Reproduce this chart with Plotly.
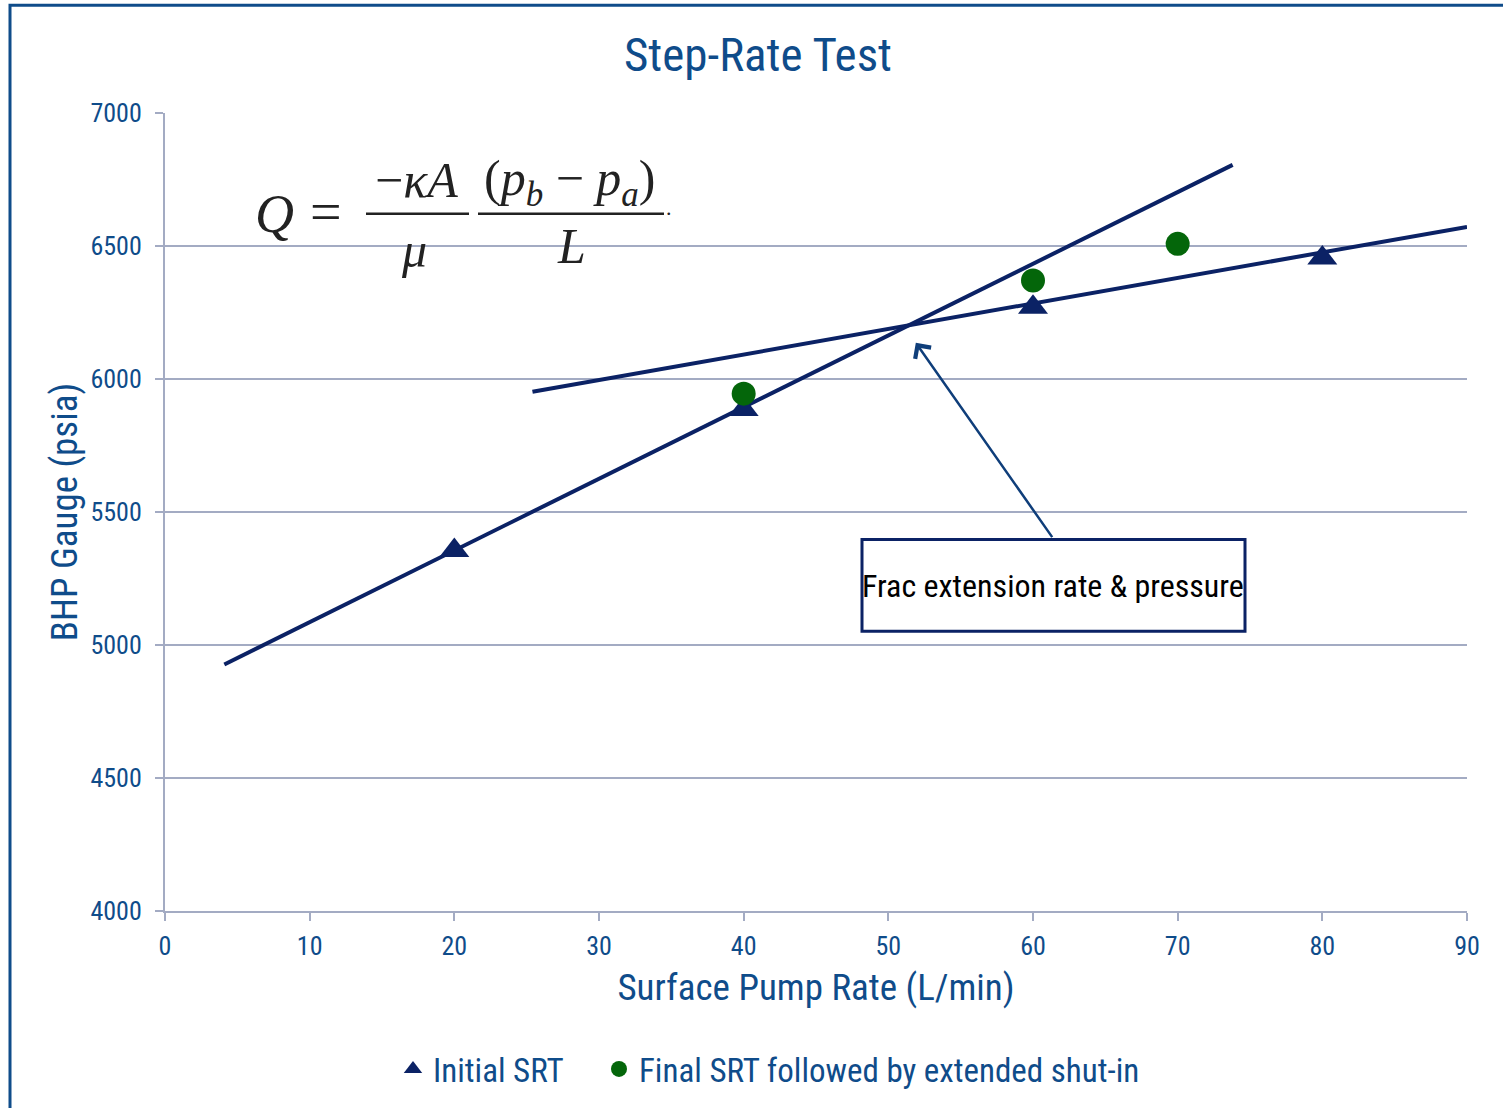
import plotly.graph_objects as go

# ---------------- data ----------------
initial_rate = [20, 40, 60, 80]
initial_bhp = [5355, 5885, 6270, 6455]

final_rate = [40, 60, 70]
final_bhp = [5945, 6370, 6508]

trend1_rate = [4.1, 73.8]
trend1_bhp = [4927, 6805]

trend2_rate = [25.4, 90]
trend2_bhp = [5952, 6572]

arrow_head = (51.9, 6136)
arrow_tail = (61.4, 5400)

x_ticks = [0, 10, 20, 30, 40, 50, 60, 70, 80, 90]
y_ticks = [4000, 4500, 5000, 5500, 6000, 6500, 7000]

# ---------------- styling ----------------
W, H = 1503, 1108
L, R, T, B = 165, 36, 113, 196
PW, PH = W - L - R, H - T - B

NAVY = "#0B2265"
GREEN = "#04660A"
BLUE = "#0F4C8A"
GRID = "#A3ABC3"
FONT = "Liberation Sans Narrow, Arial Narrow, Roboto Condensed, Liberation Sans, Arial"
SERIF = "Liberation Serif, Times New Roman, DejaVu Serif"


def px(x):
    return (x - L) / PW


def py(y):
    return (H - B - y) / PH


fig = go.Figure()

fig.add_trace(go.Scatter(x=trend1_rate, y=trend1_bhp, mode="lines",
                         line=dict(color=NAVY, width=4), showlegend=False,
                         cliponaxis=False, hoverinfo="skip"))
fig.add_trace(go.Scatter(x=trend2_rate, y=trend2_bhp, mode="lines",
                         line=dict(color=NAVY, width=4), showlegend=False,
                         cliponaxis=False, hoverinfo="skip"))
fig.add_trace(go.Scatter(x=initial_rate, y=initial_bhp, mode="markers",
                         name="Initial SRT", legend="legend",
                         marker=dict(symbol="triangle-up", size=26, color=NAVY),
                         cliponaxis=False))
fig.add_trace(go.Scatter(x=final_rate, y=final_bhp, mode="markers",
                         name="Final SRT followed by extended shut-in", legend="legend2",
                         marker=dict(symbol="circle", size=24, color=GREEN),
                         cliponaxis=False))

shapes = []
# outer frame
shapes.append(dict(type="rect", xref="paper", yref="paper",
                   x0=px(10), x1=px(1530), y0=py(5), y1=py(1130),
                   line=dict(color=BLUE, width=3), fillcolor="rgba(0,0,0,0)",
                   layer="above"))
# white background behind formula (covers gridline)
shapes.append(dict(type="rect", xref="paper", yref="paper",
                   x0=px(218), x1=px(692), y0=py(150), y1=py(285),
                   line=dict(width=0), fillcolor="white", layer="between"))
# fraction bars
shapes.append(dict(type="line", xref="paper", yref="paper",
                   x0=px(366), x1=px(469), y0=py(214), y1=py(214),
                   line=dict(color="#222", width=2.5), layer="above"))
shapes.append(dict(type="line", xref="paper", yref="paper",
                   x0=px(478), x1=px(664), y0=py(214), y1=py(214),
                   line=dict(color="#222", width=2.5), layer="above"))
# annotation box
shapes.append(dict(type="rect", xref="paper", yref="paper",
                   x0=px(862), x1=px(1245), y0=py(540), y1=py(632),
                   line=dict(color=NAVY, width=3), fillcolor="white",
                   layer="above"))

annotations = []


def formula_text(text, x, y, size=50):
    annotations.append(dict(text=text, xref="paper", yref="paper",
                            x=px(x), y=py(y), xanchor="center", yanchor="middle",
                            showarrow=False,
                            font=dict(family=SERIF, size=size, color="#222")))


formula_text("<i>Q</i>", 274, 214, size=54)
formula_text("=", 326, 212, size=56)
formula_text("\u2212<i>\u03ba</i><i>A</i>", 416, 180)
formula_text("<i>\u03bc</i>", 414, 250)
formula_text("(<i>p</i><sub><i>b</i></sub> \u2212 <i>p</i><sub><i>a</i></sub>)", 570, 182)
formula_text("<i>L</i>", 571, 246)
formula_text(".", 669, 208, size=22)

# arrow
annotations.append(dict(x=arrow_head[0], y=arrow_head[1], ax=arrow_tail[0], ay=arrow_tail[1],
                        xref="x", yref="y", axref="x", ayref="y",
                        showarrow=True, arrowhead=4, arrowsize=1.5, arrowwidth=2.5,
                        arrowcolor="#0F3E7A", text=""))
annotations.append(dict(text="Frac extension rate & pressure", xref="paper", yref="paper",
                        x=px(1053), y=py(587), xanchor="center", yanchor="middle",
                        showarrow=False, font=dict(family=FONT, size=32, color="black")))

legend_common = dict(orientation="h", xanchor="left", y=py(1069), yanchor="middle",
                     font=dict(family=FONT, size=33, color=BLUE), itemwidth=30,
                     bgcolor="rgba(0,0,0,0)")

fig.update_layout(
    width=W, height=H,
    margin=dict(l=L, r=R, t=T, b=B),
    paper_bgcolor="white", plot_bgcolor="white",
    title=dict(text="Step-Rate Test", x=758 / W, xref="container", xanchor="center",
               y=1 - 55 / H, yref="container", yanchor="middle",
               font=dict(family=FONT, size=47, color=BLUE)),
    xaxis=dict(range=[0, 90], tickvals=x_ticks, ticks="outside", ticklen=8,
               tickcolor=GRID, tickwidth=2, showgrid=False, showline=True,
               linecolor=GRID, linewidth=2, zeroline=False, ticklabelstandoff=3,
               tickfont=dict(family=FONT, size=26, color=BLUE),
               title=dict(text="Surface Pump Rate (L/min)", standoff=14,
                          font=dict(family=FONT, size=37, color=BLUE))),
    yaxis=dict(range=[4000, 7000], tickvals=y_ticks, ticks="outside", ticklen=8,
               tickcolor=GRID, tickwidth=2, showgrid=True, gridcolor=GRID,
               gridwidth=2, showline=True, linecolor=GRID, linewidth=2,
               zeroline=False, ticklabelstandoff=8,
               tickfont=dict(family=FONT, size=26, color=BLUE),
               title=dict(text="BHP Gauge (psia)", standoff=2,
                          font=dict(family=FONT, size=37, color=BLUE))),
    legend=dict(x=px(393), **legend_common),
    legend2=dict(x=px(599), **legend_common),
    shapes=shapes,
    annotations=annotations,
    showlegend=True,
)

fig.write_html("out.html")
